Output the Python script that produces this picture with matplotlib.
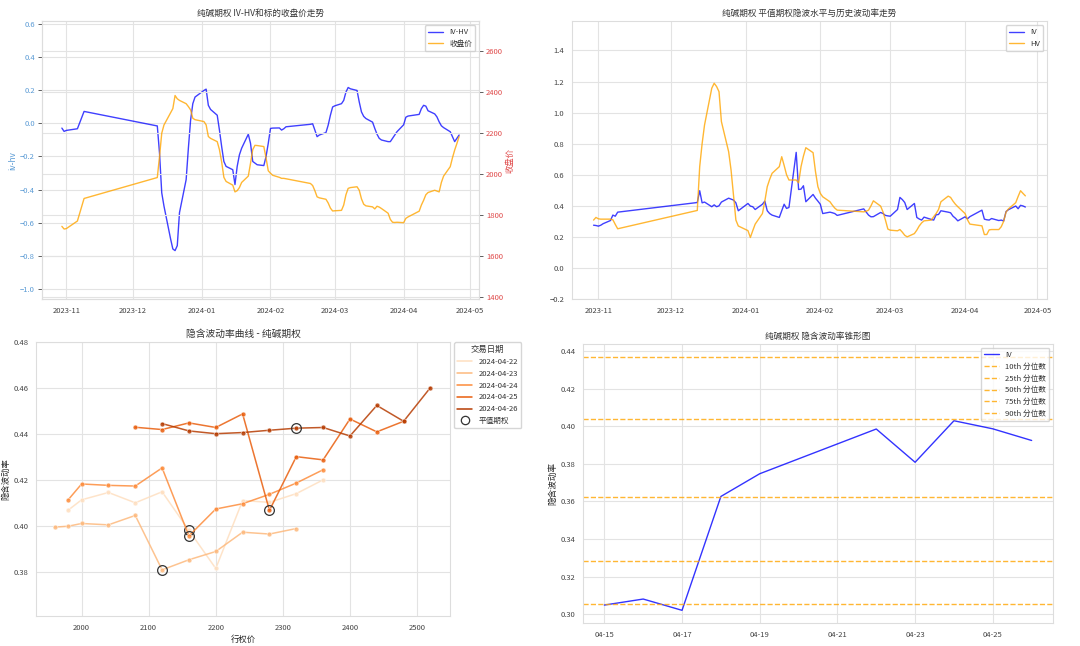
import pandas as pd
import matplotlib
matplotlib.use('Agg')
import matplotlib.pyplot as plt
import matplotlib.dates as mdates
from matplotlib.lines import Line2D
import seaborn as sns

# ---- 数据 ----
ivhv_dates = ['2023-10-30', '2023-10-31', '2023-11-01', '2023-11-06', '2023-11-09',
              '2023-12-12', '2023-12-13', '2023-12-14', '2023-12-15', '2023-12-18', '2023-12-19',
              '2023-12-20', '2023-12-21', '2023-12-22', '2023-12-25', '2023-12-26', '2023-12-27',
              '2023-12-28', '2023-12-29', '2024-01-02', '2024-01-03', '2024-01-04', '2024-01-05',
              '2024-01-08', '2024-01-09', '2024-01-10', '2024-01-11', '2024-01-12', '2024-01-15',
              '2024-01-16', '2024-01-17', '2024-01-18', '2024-01-19', '2024-01-22', '2024-01-23',
              '2024-01-24', '2024-01-25', '2024-01-26', '2024-01-29', '2024-01-30', '2024-01-31',
              '2024-02-01', '2024-02-02', '2024-02-05', '2024-02-06', '2024-02-07', '2024-02-08',
              '2024-02-19', '2024-02-20', '2024-02-21', '2024-02-22', '2024-02-23', '2024-02-26',
              '2024-02-27', '2024-02-28', '2024-02-29', '2024-03-01', '2024-03-04', '2024-03-05',
              '2024-03-06', '2024-03-07', '2024-03-08', '2024-03-11', '2024-03-12', '2024-03-13',
              '2024-03-14', '2024-03-15', '2024-03-18', '2024-03-19', '2024-03-20', '2024-03-21',
              '2024-03-22', '2024-03-25', '2024-03-26', '2024-03-27', '2024-03-28', '2024-03-29',
              '2024-04-01', '2024-04-02', '2024-04-03', '2024-04-08', '2024-04-09', '2024-04-10',
              '2024-04-11', '2024-04-12', '2024-04-15', '2024-04-16', '2024-04-17', '2024-04-18',
              '2024-04-19', '2024-04-22', '2024-04-23', '2024-04-24', '2024-04-25', '2024-04-26']
ivhv = [-0.028, -0.048, -0.042, -0.032, 0.073,
        -0.015, -0.18, -0.42, -0.50, -0.70, -0.76,
        -0.77, -0.74, -0.54, -0.34, -0.15, 0.02,
        0.12, 0.16, 0.20, 0.208, 0.11, 0.085,
        0.05, -0.04, -0.14, -0.23, -0.26, -0.28,
        -0.37, -0.26, -0.19, -0.15, -0.065, -0.12,
        -0.23, -0.24, -0.25, -0.255, -0.20, -0.12,
        -0.03, -0.028, -0.027, -0.04, -0.032, -0.02,
        -0.005, -0.002, -0.04, -0.08, -0.07, -0.055,
        -0.01, 0.05, 0.10, 0.107, 0.12, 0.14,
        0.19, 0.218, 0.21, 0.20, 0.13, 0.07,
        0.043, 0.03, 0.008, -0.03, -0.065, -0.09,
        -0.10, -0.11, -0.11, -0.09, -0.07, -0.05,
        -0.008, 0.038, 0.045, 0.055, 0.09, 0.11,
        0.105, 0.077, 0.058, 0.04, 0.01, -0.014,
        -0.025, -0.05, -0.08, -0.11, -0.09, -0.07]
close = [1746, 1733, 1735, 1772, 1882,
         1984, 2086, 2200, 2240, 2300, 2320,
         2384, 2368, 2360, 2344, 2330, 2314,
         2273, 2266, 2257, 2241, 2184, 2175,
         2159, 2120, 2060, 1985, 1965, 1947,
         1914, 1920, 1935, 1960, 1991, 2053,
         2120, 2141, 2140, 2135, 2080, 2017,
         2005, 1995, 1985, 1980, 1980, 1978,
         1955, 1945, 1920, 1890, 1885, 1878,
         1860, 1835, 1821, 1822, 1824, 1850,
         1900, 1931, 1935, 1939, 1922, 1880,
         1854, 1846, 1841, 1831, 1844, 1840,
         1833, 1810, 1780, 1766, 1765, 1766,
         1764, 1785, 1792, 1820, 1850, 1873,
         1900, 1911, 1922, 1918, 1914, 1960,
         1991, 2037, 2080, 2118, 2150, 2184]

vol_dates = ['2023-10-30', '2023-10-31', '2023-11-01', '2023-11-02', '2023-11-03', '2023-11-06',
             '2023-11-07', '2023-11-08', '2023-11-09',
             '2023-12-12', '2023-12-13', '2023-12-14', '2023-12-15', '2023-12-18', '2023-12-19',
             '2023-12-20', '2023-12-21', '2023-12-22', '2023-12-25', '2023-12-26', '2023-12-27',
             '2023-12-28', '2023-12-29', '2024-01-02', '2024-01-03', '2024-01-04', '2024-01-05',
             '2024-01-08', '2024-01-09', '2024-01-10', '2024-01-11', '2024-01-12', '2024-01-15',
             '2024-01-16', '2024-01-17', '2024-01-18', '2024-01-19', '2024-01-22', '2024-01-23',
             '2024-01-24', '2024-01-25', '2024-01-26', '2024-01-29', '2024-01-30', '2024-01-31',
             '2024-02-01', '2024-02-02', '2024-02-05', '2024-02-06', '2024-02-07', '2024-02-08',
             '2024-02-19', '2024-02-20', '2024-02-21', '2024-02-22', '2024-02-23', '2024-02-26',
             '2024-02-27', '2024-02-28', '2024-02-29', '2024-03-01', '2024-03-04', '2024-03-05',
             '2024-03-06', '2024-03-07', '2024-03-08', '2024-03-11', '2024-03-12', '2024-03-13',
             '2024-03-14', '2024-03-15', '2024-03-18', '2024-03-19', '2024-03-20', '2024-03-21',
             '2024-03-22', '2024-03-25', '2024-03-26', '2024-03-27', '2024-03-28', '2024-03-29',
             '2024-04-01', '2024-04-02', '2024-04-03', '2024-04-08', '2024-04-09', '2024-04-10',
             '2024-04-11', '2024-04-12', '2024-04-15', '2024-04-16', '2024-04-17', '2024-04-18',
             '2024-04-19', '2024-04-22', '2024-04-23', '2024-04-24', '2024-04-25', '2024-04-26']
iv = [0.275, 0.273, 0.269, 0.275, 0.285, 0.305,
      0.34, 0.333, 0.359,
      0.421, 0.497, 0.419, 0.424, 0.394, 0.406,
      0.394, 0.40, 0.424, 0.449, 0.443, 0.437,
      0.419, 0.368, 0.415, 0.398, 0.394, 0.376,
      0.41, 0.43, 0.368, 0.35, 0.34, 0.325,
      0.368, 0.41, 0.383, 0.389, 0.744, 0.505,
      0.507, 0.529, 0.426, 0.473, 0.449, 0.43,
      0.41, 0.35, 0.359, 0.355, 0.35, 0.338,
      0.38, 0.36, 0.34, 0.329, 0.33, 0.357,
      0.35, 0.338, 0.335, 0.333, 0.376, 0.454,
      0.44, 0.421, 0.376, 0.415, 0.325, 0.315,
      0.308, 0.327, 0.312, 0.308, 0.342, 0.344,
      0.368, 0.359, 0.355, 0.333, 0.32, 0.303,
      0.329, 0.316, 0.33, 0.372, 0.314, 0.31,
      0.308, 0.318, 0.305, 0.308, 0.302, 0.363,
      0.375, 0.3985, 0.381, 0.403, 0.399, 0.392]
hv = [0.308, 0.325, 0.316, 0.314, 0.314, 0.314,
      0.31, 0.28, 0.252,
      0.37, 0.652, 0.80, 0.92, 1.157, 1.189,
      1.168, 1.135, 0.942, 0.748, 0.63, 0.47,
      0.308, 0.27, 0.24, 0.196, 0.24, 0.282,
      0.35, 0.43, 0.523, 0.57, 0.609, 0.652,
      0.716, 0.66, 0.60, 0.566, 0.566, 0.548,
      0.652, 0.72, 0.774, 0.742, 0.62, 0.523,
      0.48, 0.458, 0.426, 0.404, 0.385, 0.372,
      0.361, 0.365, 0.372, 0.40, 0.432, 0.398,
      0.36, 0.308, 0.25, 0.243, 0.239, 0.247,
      0.23, 0.21, 0.20, 0.221, 0.243, 0.27,
      0.29, 0.303, 0.308, 0.33, 0.35, 0.376,
      0.426, 0.462, 0.454, 0.43, 0.41, 0.394,
      0.35, 0.31, 0.282, 0.271, 0.215, 0.215,
      0.245, 0.247, 0.247, 0.265, 0.30, 0.36,
      0.38, 0.42, 0.46, 0.497, 0.48, 0.464]

# 隐含波动率曲线 (行权价, 隐波)
smile_days = ['2024-04-22', '2024-04-23', '2024-04-24', '2024-04-25', '2024-04-26']
smile_strikes = {
    '2024-04-22': [1980, 2000, 2040, 2080, 2120, 2160, 2200, 2240, 2280, 2320, 2360],
    '2024-04-23': [1960, 1980, 2000, 2040, 2080, 2120, 2160, 2200, 2240, 2280, 2320],
    '2024-04-24': [1980, 2000, 2040, 2080, 2120, 2160, 2200, 2240, 2280, 2320, 2360],
    '2024-04-25': [2080, 2120, 2160, 2200, 2240, 2280, 2320, 2360, 2400, 2440, 2480],
    '2024-04-26': [2120, 2160, 2200, 2240, 2280, 2320, 2360, 2400, 2440, 2480, 2520],
}
smile_iv = {
    '2024-04-22': [0.4068, 0.4113, 0.4145, 0.4100, 0.4148, 0.3980, 0.3814, 0.4110, 0.4102, 0.4140, 0.4200],
    '2024-04-23': [0.3994, 0.3998, 0.4010, 0.4004, 0.4045, 0.3808, 0.3852, 0.3888, 0.3972, 0.3964, 0.3988],
    '2024-04-24': [0.4113, 0.4182, 0.4176, 0.4173, 0.4252, 0.3956, 0.4073, 0.4096, 0.4137, 0.4186, 0.4244],
    '2024-04-25': [0.4429, 0.4419, 0.4448, 0.4428, 0.4487, 0.4067, 0.4301, 0.4287, 0.4465, 0.4409, 0.4455],
    '2024-04-26': [0.4445, 0.4413, 0.4401, 0.4406, 0.4416, 0.4425, 0.4428, 0.4391, 0.4524, 0.4455, 0.4602],
}
atm_strike = {'2024-04-22': 2160, '2024-04-23': 2120, '2024-04-24': 2160,
              '2024-04-25': 2280, '2024-04-26': 2320}

# 锥形图
cone_dates = ['2024-04-15', '2024-04-16', '2024-04-17', '2024-04-18', '2024-04-19',
              '2024-04-22', '2024-04-23', '2024-04-24', '2024-04-25', '2024-04-26']
cone_iv = [0.3048, 0.3080, 0.3020, 0.3626, 0.3747, 0.3985, 0.3808, 0.4029, 0.3986, 0.3924]
pct_names = ['10th', '25th', '50th', '75th', '90th']
pct_values = [0.3052, 0.3285, 0.3622, 0.4040, 0.4370]

# ---- 样式 ----
sns.set_style('whitegrid')
plt.rcParams['font.family'] = ['Noto Sans CJK SC', 'DejaVu Sans']
plt.rcParams['axes.edgecolor'] = '#dddddd'
plt.rcParams['grid.color'] = '#e3e3e3'
plt.rcParams['xtick.labelsize'] = 5.5
plt.rcParams['ytick.labelsize'] = 5.5
plt.rcParams['text.color'] = '#333333'
plt.rcParams['xtick.color'] = '#444444'
plt.rcParams['ytick.color'] = '#444444'

fig = plt.figure(figsize=(10.8, 6.46), dpi=100)
ax1 = fig.add_axes([0.0389, 0.5372, 0.4046, 0.4296])
ax3 = fig.add_axes([0.5296, 0.5372, 0.4398, 0.4296])
ax4 = fig.add_axes([0.0333, 0.0464, 0.3833, 0.4241])
ax5 = fig.add_axes([0.5398, 0.0356, 0.4352, 0.4319])

d_ivhv = pd.to_datetime(ivhv_dates)
d_vol = pd.to_datetime(vol_dates)

# 图1: IV-HV 和收盘价
l1, = ax1.plot(d_ivhv, ivhv, color='blue', alpha=0.75, lw=1.0, label='IV-HV')
ax1.set_ylim(-1.063, 0.618)
ax1.set_yticks([-1.0, -0.8, -0.6, -0.4, -0.2, 0.0, 0.2, 0.4, 0.6])
ax1.set_ylabel('iv-hv', color='#5b9bd5', fontsize=6, labelpad=2)
ax1.tick_params(axis='y', labelcolor='#5b9bd5', left=True, length=3, width=0.6, pad=2)
ax1.tick_params(axis='x', pad=2)
ax2 = ax1.twinx()
l2, = ax2.plot(d_ivhv, close, color='orange', alpha=0.8, lw=1.0, label='收盘价')
ax2.set_ylim(1392, 2745)
ax2.set_yticks([1400, 1600, 1800, 2000, 2200, 2400, 2600])
ax2.set_ylabel('收盘价', color='#e04a4a', fontsize=6, labelpad=2)
ax2.tick_params(axis='y', labelcolor='#e04a4a', right=True, length=3, width=0.6, pad=2)
ax1.set_title('纯碱期权 IV-HV和标的收盘价走势', fontsize=6.2, pad=4)
ax1.xaxis.set_major_locator(mdates.MonthLocator())
ax1.xaxis.set_major_formatter(mdates.DateFormatter('%Y-%m'))
ax2.legend([l1, l2], ['IV-HV', '收盘价'], loc='upper right', fontsize=5.5)

# 图2: IV 与 HV
ax3.plot(d_vol, iv, color='blue', alpha=0.75, lw=1.0, label='IV')
ax3.plot(d_vol, hv, color='orange', alpha=0.8, lw=1.0, label='HV')
ax3.set_ylim(-0.2, 1.587)
ax3.set_yticks([-0.2, 0.0, 0.2, 0.4, 0.6, 0.8, 1.0, 1.2, 1.4])
ax3.set_title('纯碱期权 平值期权隐波水平与历史波动率走势', fontsize=6.2, pad=4)
ax3.xaxis.set_major_locator(mdates.MonthLocator())
ax3.xaxis.set_major_formatter(mdates.DateFormatter('%Y-%m'))
ax3.tick_params(pad=2)
ax3.legend(loc='upper right', fontsize=5.5)

# 图3: 隐含波动率曲线
colors = sns.color_palette('Oranges', len(smile_days))
handles = []
for day, c in zip(smile_days, colors):
    ax4.plot(smile_strikes[day], smile_iv[day], color=c, alpha=0.85, lw=1.1,
             marker='o', ms=3.5, mec='white', mew=0.4)
    handles.append(Line2D([], [], color=c, lw=1.1))
    k = smile_strikes[day].index(atm_strike[day])
    ax4.plot([atm_strike[day]], [smile_iv[day][k]], ls='none', marker='o', ms=7,
             mfc='none', mec='#333333', mew=0.9)
handles.append(Line2D([], [], ls='none', marker='o', ms=6, mfc='none', mec='#333333', mew=0.9))
ax4.set_xlim(1932, 2549)
ax4.set_ylim(0.3607, 0.48)
ax4.set_yticks([0.38, 0.40, 0.42, 0.44, 0.46, 0.48])
ax4.set_xticks([2000, 2100, 2200, 2300, 2400, 2500])
ax4.set_title('隐含波动率曲线 - 纯碱期权', fontsize=7, pad=4)
ax4.set_xlabel('行权价', fontsize=6, labelpad=2)
ax4.set_ylabel('隐含波动率', fontsize=6, labelpad=2)
ax4.tick_params(pad=2)
ax4.legend(handles, smile_days + ['平值期权'], title='交易日期', fontsize=5.5, title_fontsize=6,
           loc='upper left', bbox_to_anchor=(1.01, 1.0), borderaxespad=0)

# 图4: 锥形图
d_cone = pd.to_datetime(cone_dates)
ax5.plot(d_cone, cone_iv, color='blue', alpha=0.8, lw=1.0, label='IV')
for name, v in zip(pct_names, pct_values):
    ax5.axhline(v, color='orange', ls='--', lw=1.0, alpha=0.8, label=f'{name} 分位数')
ax5.set_title('纯碱期权 隐含波动率锥形图', fontsize=6.2, pad=4)
ax5.set_ylabel('隐含波动率', fontsize=6.2, labelpad=2)
ax5.set_xticks(pd.date_range('2024-04-15', '2024-04-25', freq='2D'))
ax5.xaxis.set_major_formatter(mdates.DateFormatter('%m-%d'))
ax5.set_yticks([0.30, 0.32, 0.34, 0.36, 0.38, 0.40, 0.42, 0.44])
ax5.tick_params(pad=2)
ax5.legend(loc='upper right', fontsize=5.5)

fig.savefig('out.png', dpi=100)
